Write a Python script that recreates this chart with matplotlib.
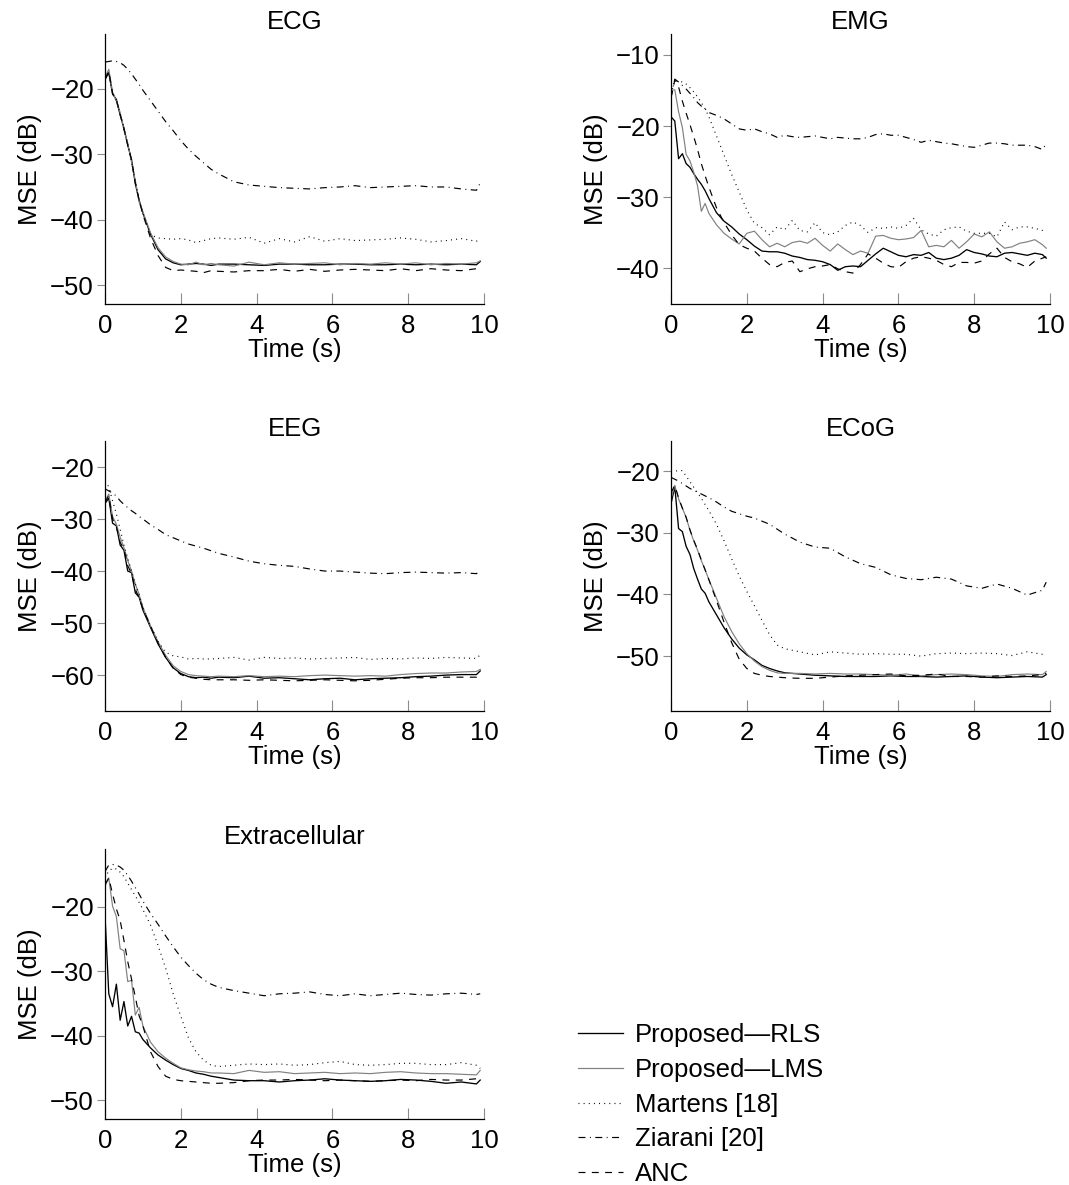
import matplotlib
matplotlib.use("Agg")
import matplotlib.pyplot as plt
from matplotlib.ticker import MultipleLocator
from matplotlib.lines import Line2D

plt.rcParams['font.family'] = ['Liberation Sans', 'DejaVu Sans']
plt.rcParams['lines.scale_dashes'] = False

# ---------------- data ----------------
# common time grid (s) for ECG, EEG, ECoG, Extracellular
T = [0.0, 0.1, 0.2, 0.3, 0.4, 0.5, 0.6, 0.7, 0.8, 0.9, 1.0,
     1.2, 1.4, 1.6, 1.8, 2.0, 2.2, 2.4, 2.6, 2.8, 3.0,
     3.4, 3.8, 4.2, 4.6, 5.0, 5.4, 5.8, 6.2, 6.6, 7.0, 7.4, 7.8, 8.2, 8.6, 9.0, 9.4,
     9.8, 9.9]
# finer grid for EMG
T_EMG = [0.0, 0.1, 0.2, 0.3, 0.4, 0.5, 0.6, 0.7, 0.8, 0.9, 1.0,
         1.2, 1.4, 1.6, 1.8, 2.0, 2.2, 2.4, 2.6, 2.8, 3.0,
         3.2, 3.4, 3.6, 3.8, 4.0, 4.2, 4.4, 4.6, 4.8, 5.0,
         5.2, 5.4, 5.6, 5.8, 6.0, 6.2, 6.4, 6.6, 6.8, 7.0,
         7.2, 7.4, 7.6, 7.8, 8.0, 8.2, 8.4, 8.6, 8.8, 9.0,
         9.2, 9.4, 9.6, 9.8, 9.9]

methods = ["Proposed\u2014RLS", "Proposed\u2014LMS", "Martens [18]", "Ziarani [20]", "ANC"]
panel_titles = ["ECG", "EMG", "EEG", "ECoG", "Extracellular"]

# ECG
ecg_rls = [-18.6, -17.5, -20.8, -21.6, -24.0, -26.0, -28.6, -30.8, -34.5, -37.0, -39.0,
           -42.2, -44.6, -46.0, -46.6, -46.9, -46.8, -46.7, -46.8, -47.0, -46.8,
           -46.8, -46.9, -47.0, -46.8, -46.8, -46.9, -46.9, -46.8, -46.8, -46.9, -46.9, -46.8, -46.9, -46.8, -46.9, -46.8,
           -46.9, -46.4]
ecg_lms = [-18.2, -17.0, -20.5, -21.9, -23.6, -26.3, -28.3, -31.2, -34.0, -37.3, -38.8,
           -42.0, -44.3, -45.7, -46.4, -46.8, -46.9, -46.5, -46.9, -46.7, -46.9,
           -47.1, -46.5, -46.9, -46.6, -46.8, -46.7, -46.6, -46.9, -46.7, -46.8, -46.6, -46.8, -46.6, -46.9, -46.7, -46.8,
           -46.6, -46.3]
ecg_martens = [-18.4, -17.4, -20.6, -21.8, -23.8, -26.1, -28.5, -31.0, -34.3, -37.1, -39.0,
               -42.3, -42.8, -42.9, -43.0, -42.9, -43.1, -43.5, -43.2, -42.9, -42.8,
               -43.0, -42.7, -43.6, -42.9, -43.4, -42.6, -43.3, -42.9, -43.2, -43.1, -43.0, -42.8, -43.0, -43.4, -43.2, -42.9,
               -43.3, -42.9]
ecg_ziarani = [-15.9, -15.8, -15.7, -15.8, -16.0, -16.4, -17.0, -17.7, -18.5, -19.3, -20.2,
               -21.8, -23.4, -25.0, -26.4, -27.9, -29.2, -30.3, -31.3, -32.3, -33.0,
               -34.2, -34.7, -34.9, -35.1, -35.2, -35.3, -35.1, -35.0, -34.8, -35.1, -35.0, -34.9, -34.8, -35.0, -35.0, -35.3,
               -35.5, -34.4]
ecg_anc = [-18.5, -17.3, -20.7, -21.7, -23.9, -26.1, -28.6, -30.9, -34.4, -37.0, -39.2,
           -42.8, -45.5, -47.3, -47.8, -47.7, -47.8, -47.9, -48.1, -47.8, -47.9,
           -48.0, -47.8, -47.8, -47.6, -47.9, -47.6, -47.9, -47.7, -47.6, -47.7, -47.8, -47.5, -47.8, -47.5, -47.7, -47.8,
           -47.5, -47.9]

# EMG
emg_rls = [-18.7, -19.3, -24.6, -23.9, -25.3, -25.8, -26.7, -27.5, -28.2, -29.1, -30.2,
           -32.2, -33.4, -34.2, -35.2, -36.0, -36.9, -37.6, -37.7, -37.7, -37.9,
           -38.3, -38.5, -38.8, -38.9, -39.1, -39.5, -40.3, -39.8, -39.7, -39.8,
           -38.9, -38.0, -37.2, -37.7, -38.2, -38.4, -38.1, -38.2, -37.8, -38.6,
           -38.8, -38.6, -38.2, -37.4, -37.8, -38.0, -38.3, -38.4, -37.9, -37.8,
           -38.0, -38.2, -37.9, -38.1, -38.6]
emg_lms = [-15.0, -14.9, -18.0, -20.2, -24.0, -24.9, -26.5, -28.4, -32.0, -30.9, -32.3,
           -33.9, -35.1, -35.9, -36.6, -35.1, -34.8, -36.0, -37.0, -36.5, -37.0,
           -36.4, -36.2, -36.5, -35.8, -36.8, -37.6, -36.6, -37.4, -38.1, -37.6,
           -37.9, -35.5, -35.4, -35.8, -36.0, -35.9, -35.7, -34.7, -37.0, -36.8,
           -37.0, -36.1, -37.2, -36.3, -35.2, -35.6, -34.9, -36.3, -37.2, -37.0,
           -36.5, -36.3, -36.0, -36.7, -37.2]
emg_martens = [-15.5, -13.6, -13.7, -13.8, -14.1, -14.6, -15.2, -15.9, -16.7, -17.6, -18.7,
               -21.4, -24.1, -26.8, -29.3, -31.8, -33.7, -34.3, -35.3, -34.2, -34.6,
               -33.3, -34.7, -34.9, -33.6, -35.0, -35.3, -34.9, -34.0, -33.5, -34.0,
               -35.0, -34.3, -34.4, -34.2, -34.4, -34.0, -33.0, -34.6, -35.2, -35.5,
               -34.6, -34.3, -34.2, -34.8, -35.1, -35.1, -35.1, -35.6, -33.5, -34.6,
               -34.2, -34.2, -34.4, -34.7, -34.9]
emg_ziarani = [-16.0, -13.4, -13.8, -14.3, -14.8, -15.4, -16.0, -16.7, -17.2, -17.6, -18.1,
               -18.5, -19.0, -19.7, -20.4, -20.6, -20.4, -20.8, -21.1, -21.6, -21.3,
               -21.5, -21.6, -21.5, -21.4, -21.6, -21.8, -21.6, -21.7, -21.8, -21.8,
               -21.6, -21.2, -21.1, -21.3, -21.3, -21.6, -21.9, -22.3, -22.0, -22.2,
               -22.4, -22.5, -22.7, -22.9, -23.0, -22.7, -22.4, -22.4, -22.5, -22.7,
               -22.7, -22.7, -22.9, -23.3, -22.5]
emg_anc = [-16.0, -13.5, -14.5, -16.5, -18.2, -19.8, -21.5, -23.3, -25.3, -27.0, -28.6,
           -31.5, -33.6, -35.3, -36.7, -37.2, -37.6, -38.6, -39.5, -39.8, -39.2,
           -39.0, -40.5, -40.1, -39.8, -39.7, -39.5, -40.1, -40.5, -40.7, -39.5,
           -38.0, -38.6, -39.3, -39.8, -39.9, -39.1, -38.6, -38.4, -38.6, -38.9,
           -39.5, -39.8, -39.2, -39.2, -39.3, -39.0, -38.0, -37.2, -38.5, -39.1,
           -39.4, -39.9, -39.0, -38.6, -38.4]

# EEG
eeg_rls = [-27.0, -26.0, -30.8, -31.3, -35.0, -36.0, -40.0, -40.3, -44.2, -45.0, -47.5,
           -50.8, -54.0, -56.6, -58.6, -59.7, -60.3, -60.5, -60.4, -60.6, -60.4,
           -60.5, -60.2, -60.6, -60.5, -60.7, -60.9, -60.7, -60.6, -60.9, -60.7, -60.6, -60.5, -60.3, -60.2, -60.0, -59.9,
           -59.9, -59.2]
eeg_lms = [-26.5, -25.2, -29.5, -31.0, -33.5, -35.5, -38.0, -40.0, -42.5, -44.5, -47.0,
           -50.5, -53.6, -56.2, -58.2, -59.3, -59.9, -60.1, -60.2, -60.3, -60.2,
           -60.3, -60.1, -60.3, -60.2, -60.3, -60.1, -60.0, -60.1, -60.2, -60.1, -60.2, -59.9, -59.7, -59.6, -59.6, -59.4,
           -59.3, -58.9]
eeg_martens = [-22.7, -23.8, -26.5, -29.0, -32.0, -35.0, -37.5, -40.0, -42.5, -44.5, -47.0,
               -50.5, -53.5, -55.6, -56.3, -56.5, -56.9, -56.8, -56.9, -56.9, -56.8,
               -56.6, -57.1, -56.6, -56.8, -56.7, -56.9, -56.8, -56.7, -56.6, -57.0, -56.8, -56.9, -56.7, -56.8, -56.6, -56.7,
               -56.8, -56.1]
eeg_ziarani = [-24.2, -24.6, -25.0, -25.6, -26.5, -27.2, -27.8, -28.4, -28.9, -29.5, -30.0,
               -31.1, -32.0, -33.0, -33.6, -34.2, -34.8, -35.2, -35.6, -36.1, -36.6,
               -37.3, -38.1, -38.6, -38.9, -39.1, -39.6, -40.0, -40.0, -40.2, -40.4, -40.5, -40.3, -40.2, -40.3, -40.4, -40.3,
               -40.5, -39.9]
eeg_anc = [-26.8, -25.5, -30.0, -31.5, -34.5, -35.8, -39.0, -40.5, -43.5, -45.2, -47.2,
           -50.6, -53.9, -56.6, -58.7, -59.9, -60.4, -60.6, -60.8, -60.9, -60.9,
           -60.9, -61.0, -60.9, -61.0, -61.1, -61.0, -60.9, -61.0, -61.1, -61.0, -60.8, -60.6, -60.5, -60.5, -60.4, -60.4,
           -60.4, -59.9]

# ECoG
ecog_rls = [-25.3, -22.5, -29.3, -29.8, -32.2, -33.5, -35.8, -37.5, -39.1, -39.8, -41.2,
            -43.3, -45.4, -47.2, -48.7, -49.8, -50.6, -51.5, -52.0, -52.4, -52.7,
            -52.9, -53.1, -53.2, -53.3, -53.3, -53.3, -53.2, -53.3, -53.3, -53.4, -53.3, -53.2, -53.4, -53.5, -53.4, -53.3,
            -53.4, -53.0]
ecog_lms = [-24.5, -22.3, -24.5, -26.0, -27.5, -29.6, -31.3, -32.8, -34.5, -36.0, -37.6,
            -40.6, -43.6, -46.0, -48.0, -49.6, -50.8, -51.7, -52.3, -52.7, -52.8,
            -52.8, -52.9, -52.8, -52.9, -52.9, -53.0, -53.1, -52.9, -53.2, -53.0, -52.9, -53.0, -53.2, -53.3, -53.0, -52.9,
            -53.0, -52.5]
ecog_martens = [-20.0, -20.0, -19.9, -19.9, -20.8, -21.7, -22.6, -23.5, -24.4, -25.4, -26.4,
                -28.6, -31.3, -34.2, -37.0, -39.5, -41.8, -44.2, -46.5, -48.2, -48.8,
                -49.3, -49.8, -49.3, -49.5, -49.7, -49.6, -49.7, -49.7, -50.0, -49.6, -49.5, -49.6, -49.5, -49.6, -49.9, -49.3,
                -49.7, -49.7]
ecog_ziarani = [-21.0, -21.3, -21.6, -22.0, -22.4, -22.8, -23.1, -23.4, -23.7, -24.0, -24.3,
                -25.0, -25.8, -26.5, -26.9, -27.3, -27.6, -28.1, -28.6, -29.4, -30.2,
                -31.5, -32.3, -32.5, -33.9, -35.0, -35.6, -36.8, -37.4, -37.6, -37.2, -37.5, -38.6, -39.0, -38.3, -39.0, -40.1,
                -39.3, -38.0]
ecog_anc = [-23.5, -22.3, -24.3, -26.0, -27.5, -29.5, -31.2, -32.7, -34.4, -36.0, -37.6,
            -41.0, -44.5, -47.8, -50.5, -52.0, -52.8, -53.1, -53.3, -53.4, -53.5,
            -53.6, -53.6, -53.4, -53.2, -53.1, -53.0, -52.9, -53.2, -53.1, -52.9, -53.3, -53.3, -53.4, -53.2, -53.3, -53.2,
            -53.0, -52.8]

# Extracellular
ext_rls = [-21.3, -33.5, -35.5, -32.0, -37.6, -34.7, -38.5, -37.0, -39.4, -39.6, -40.6,
           -41.9, -43.0, -43.8, -44.5, -45.1, -45.4, -45.8, -46.0, -46.3, -46.5,
           -46.9, -47.0, -47.0, -47.2, -47.0, -46.9, -46.7, -46.9, -47.0, -47.1, -47.0, -46.8, -46.9, -47.1, -47.4, -47.2,
           -47.5, -46.9]
ext_lms = [-16.8, -15.5, -19.9, -21.5, -26.5, -26.8, -31.6, -31.4, -36.8, -35.6, -38.5,
           -41.0, -42.5, -43.5, -44.3, -45.0, -45.3, -45.5, -45.6, -45.8, -45.8,
           -45.9, -45.4, -45.7, -45.6, -45.9, -45.8, -45.7, -45.9, -45.8, -45.9, -45.7, -45.6, -45.8, -45.9, -45.9, -46.0,
           -46.1, -45.4]
ext_martens = [-15.5, -14.4, -14.0, -14.1, -14.6, -15.3, -16.3, -17.3, -18.3, -19.3, -20.4,
               -22.8, -26.0, -29.5, -33.5, -37.0, -40.3, -42.5, -43.8, -44.6, -44.8,
               -44.6, -44.4, -44.5, -44.4, -44.6, -44.5, -44.2, -44.0, -44.5, -44.6, -44.5, -44.3, -44.3, -44.5, -44.5, -44.2,
               -44.6, -45.1]
ext_ziarani = [-14.5, -13.5, -13.4, -13.5, -13.8, -14.3, -15.1, -16.0, -17.0, -18.0, -19.1,
               -21.0, -22.7, -24.5, -26.2, -27.8, -29.1, -30.3, -31.3, -32.0, -32.5,
               -33.0, -33.4, -33.8, -33.5, -33.4, -33.2, -33.6, -33.8, -33.5, -33.8, -33.6, -33.4, -33.6, -33.7, -33.5, -33.4,
               -33.6, -33.5]
ext_anc = [-16.5, -15.5, -18.0, -20.3, -22.1, -25.2, -28.5, -31.2, -34.0, -36.9, -38.5,
           -42.5, -44.8, -46.3, -46.8, -47.0, -47.1, -47.2, -47.3, -47.4, -47.4,
           -47.3, -47.0, -46.9, -46.9, -46.8, -46.9, -47.0, -46.9, -47.0, -47.1, -47.0, -46.9, -47.0, -46.8, -46.9, -46.9,
           -46.7, -46.6]

ylims = [(-52.9, -11.6), (-45.05, -7.05), (-66.9, -15.0), (-58.9, -15.1), (-52.95, -11.0)]

panels = [
    (T, [ecg_rls, ecg_lms, ecg_martens, ecg_ziarani, ecg_anc]),
    (T_EMG, [emg_rls, emg_lms, emg_martens, emg_ziarani, emg_anc]),
    (T, [eeg_rls, eeg_lms, eeg_martens, eeg_ziarani, eeg_anc]),
    (T, [ecog_rls, ecog_lms, ecog_martens, ecog_ziarani, ecog_anc]),
    (T, [ext_rls, ext_lms, ext_martens, ext_ziarani, ext_anc]),
]

# ---------------- styles ----------------
styles = [
    dict(color='black', lw=0.95, ls='-'),
    dict(color='#808080', lw=0.85, ls='-'),
    dict(color='black', lw=0.85, ls=(0, (0.7, 3.0))),
    dict(color='black', lw=0.85, ls=(0, (5.0, 3.2, 0.7, 3.2))),
    dict(color='black', lw=0.85, ls=(0, (5.0, 4.6))),
]

FS = 18.5
W, H = 1069, 1185
fig = plt.figure(figsize=(W / 100, H / 100), dpi=100)

ax_w = 379 / W
ax_h = 270 / H
lefts = [105 / W, 671 / W]
bottoms = [1 - 304 / H, 1 - 711 / H, 1 - 1119 / H]
positions = [(lefts[0], bottoms[0]), (lefts[1], bottoms[0]),
             (lefts[0], bottoms[1]), (lefts[1], bottoms[1]),
             (lefts[0], bottoms[2])]

for (x0, y0), title, (tt, series), yl in zip(positions, panel_titles, panels, ylims):
    ax = fig.add_axes([x0, y0, ax_w, ax_h])
    for s, st in zip(series, styles):
        ax.plot(tt, s, color=st['color'], lw=st['lw'], linestyle=st['ls'])
    ax.set_xlim(0, 10)
    ax.set_ylim(*yl)
    ax.xaxis.set_major_locator(MultipleLocator(2))
    ax.yaxis.set_major_locator(MultipleLocator(10))
    for side in ['top', 'right']:
        ax.spines[side].set_visible(False)
    for side in ['left', 'bottom']:
        ax.spines[side].set_linewidth(0.9)
        ax.spines[side].set_color('black')
    ax.tick_params(axis='x', direction='in', length=8, width=0.8, color='#8c8c8c',
                   labelsize=FS, pad=7)
    ax.tick_params(axis='y', direction='out', length=6, width=0.8, color='#8c8c8c',
                   labelsize=FS, pad=2)
    ax.set_title(title, fontsize=FS, pad=-2)
    ax.set_xlabel('Time (s)', fontsize=FS, labelpad=0)
    ax.set_ylabel('MSE (dB)', fontsize=FS, labelpad=6)

handles = [Line2D([], [], color=st['color'], lw=st['lw'], linestyle=st['ls']) for st in styles]
fig.legend(handles, methods, loc='upper left', bbox_to_anchor=(578 / W, 1 - 1023 / H),
           frameon=False, fontsize=FS, borderpad=0, borderaxespad=0,
           handlelength=1.75, handletextpad=0.45, labelspacing=0.42)

fig.savefig('out.png', dpi=100)
